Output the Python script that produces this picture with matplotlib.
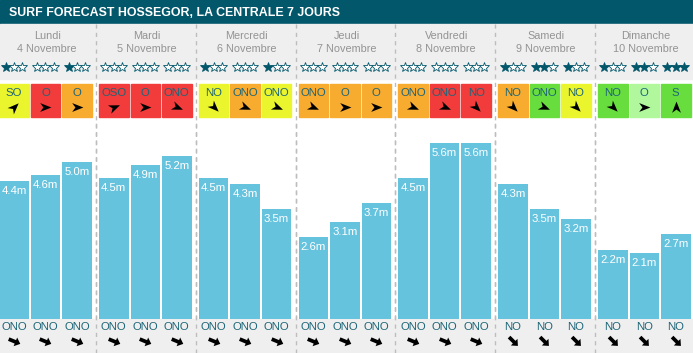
import numpy as np
import matplotlib.pyplot as plt
from matplotlib.path import Path
from matplotlib.markers import MarkerStyle
from matplotlib.transforms import Affine2D

plt.rcParams['font.family'] = ['Liberation Sans', 'DejaVu Sans']

# data
title = "SURF FORECAST HOSSEGOR, LA CENTRALE 7 JOURS"
days = ["Lundi", "Mardi", "Mercredi", "Jeudi", "Vendredi", "Samedi", "Dimanche"]
dates = ["4 Novembre", "5 Novembre", "6 Novembre", "7 Novembre",
         "8 Novembre", "9 Novembre", "10 Novembre"]
stars = [[1, 0, 1], [0, 0, 0], [1, 0, 1], [0, 0, 0], [0, 0, 0], [1, 2, 1], [1, 2, 3]]
wind_dir = [["SO", "O", "O"], ["OSO", "O", "ONO"], ["NO", "ONO", "ONO"],
            ["ONO", "O", "O"], ["ONO", "ONO", "NO"], ["NO", "ONO", "NO"],
            ["NO", "O", "S"]]
# wind quality: y=yellow, r=red, o=orange, g=green, l=light green
wind_q = [["y", "r", "o"], ["r", "r", "r"], ["y", "o", "y"], ["o", "o", "o"],
          ["o", "r", "r"], ["o", "g", "y"], ["g", "l", "g"]]
heights = [[4.4, 4.6, 5.0], [4.5, 4.9, 5.2], [4.5, 4.3, 3.5], [2.6, 3.1, 3.7],
           [4.5, 5.6, 5.6], [4.3, 3.5, 3.2], [2.2, 2.1, 2.7]]
swell_dir = [["ONO"] * 3] * 5 + [["NO"] * 3] * 2

qcol = {"y": "#ebf52d", "r": "#f23b3b", "o": "#f7ab2f", "g": "#68dd3e", "l": "#b1f79c"}
compass = {"N": 0, "NE": 45, "E": 90, "SE": 135, "S": 180, "SO": 225, "OSO": 247.5,
           "O": 270, "ONO": 292.5, "NO": 315}

TEAL = "#02576b"
TXT = "#1d6577"
BAR = "#66c3de"
W, H = 693, 353

fig = plt.figure(figsize=(W / 100, H / 100), dpi=100)
ax = fig.add_axes([0, 0, 1, 1])
ax.set_xlim(0, W)
ax.set_ylim(H, 0)
ax.axis("off")

# backgrounds
ax.add_patch(plt.Rectangle((0, 0), W, 24, color=TEAL, zorder=1))
ax.add_patch(plt.Rectangle((0, 24), W, 55, color="#efefef", zorder=1))
ax.add_patch(plt.Rectangle((0, 319), W, H - 319, color="#efefef", zorder=1))
ax.text(9, 12.5, title, color="white", fontsize=8.9, fontweight="bold",
        va="center", ha="left", zorder=3)

step = 99.8
seps = [96 + step * i for i in range(6)]
for s in seps:
    ax.plot([s, s], [24, H], color="#bdbdbd", lw=1, ls=(0, (3, 3)), zorder=5)

bw, bstep = 29.5, 31.5


def slot_left(d, k):
    return 96 + step * (d - 1) + 3 + bstep * k


dart = Path([(1, 0), (-0.9, 0.75), (-0.35, 0), (-0.9, -0.75), (1, 0)],
            [Path.MOVETO, Path.LINETO, Path.LINETO, Path.LINETO, Path.CLOSEPOLY])
fat = Path([(-1, 0.3), (0.15, 0.3), (0.15, 0.75), (1, 0), (0.15, -0.75),
            (0.15, -0.3), (-1, -0.3), (-1, 0.3)],
           [Path.MOVETO] + [Path.LINETO] * 6 + [Path.CLOSEPOLY])


def marker(path, name):
    ang = 90 - (compass[name] + 180)
    return MarkerStyle(path, transform=Affine2D().rotate_deg(ang))


for d in range(7):
    cx = 96 + step * (d - 1) + step / 2 + 1
    ax.text(cx, 36, days[d], color="#939393", fontsize=7.8, ha="center", va="center", zorder=3)
    ax.text(cx, 49, dates[d], color="#939393", fontsize=7.8, ha="center", va="center", zorder=3)
    for k in range(3):
        x0 = slot_left(d, k)
        xc = x0 + bw / 2
        # stars
        for j in range(3):
            filled = j < stars[d][k]
            ax.plot(xc + (j - 1) * 8.3, 67, marker="*", ms=7,
                    mfc=TEAL if filled else "white", mec=TEAL, mew=0.6, zorder=4)
        # wind box
        ax.add_patch(plt.Rectangle((x0, 84), bw, 33, color=qcol[wind_q[d][k]], zorder=2))
        ax.text(xc, 92.5, wind_dir[d][k], color=TXT, fontsize=8.2, ha="center", va="center", zorder=3)
        ax.plot(xc, 107, marker=marker(dart, wind_dir[d][k]), ms=8.5, color="black",
                mew=0, zorder=4)
        # swell
        ax.text(xc, 327, swell_dir[d][k], color=TXT, fontsize=8.2, ha="center", va="center", zorder=3)
        ax.plot(xc, 341, marker=marker(fat, swell_dir[d][k]), ms=9, color="black",
                mew=0, zorder=4)

# bars in their own axes, in metres
px_per_m = 31.4
top_px = 120
bx = fig.add_axes([0, (H - 319) / H, 1, (319 - top_px) / H])
bx.set_xlim(0, W)
bx.set_ylim(0, (319 - top_px) / px_per_m)
bx.axis("off")
bx.patch.set_alpha(0)
for d in range(7):
    for k in range(3):
        x0 = slot_left(d, k)
        v = heights[d][k]
        bx.bar(x0, v, width=bw, align="edge", color=BAR, zorder=2)
        bx.text(x0 + bw / 2, v - 10 / px_per_m, f"{v:.1f}m", color="white",
                fontsize=8.2, ha="center", va="center", zorder=3)
for s in seps:
    bx.plot([s, s], [0, 10], color="#bdbdbd", lw=1, ls=(0, (3, 3)), zorder=5)

fig.savefig("out.png", dpi=100)
